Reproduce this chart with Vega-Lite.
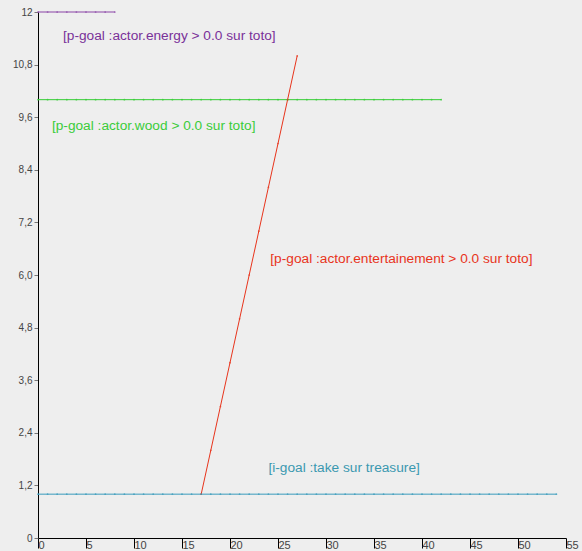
{
  "$schema": "https://vega.github.io/schema/vega-lite/v6.json",
  "autosize": "none",
  "width": 528,
  "height": 526,
  "padding": {"left": 38, "top": 12, "right": 16, "bottom": 13},
  "background": "#eeeeee",
  "config": {
    "view": {"stroke": null, "fill": "#eeeeee"},
    "locale": {"number": {"decimal": ",", "thousands": ".", "grouping": [3], "currency": ["", " €"]}},
    "font": "Liberation Sans"
  },
  "datasets": {
    "series": [
      {"goal": "energy", "x": 0, "y": 12}, {"goal": "energy", "x": 1, "y": 12}, {"goal": "energy", "x": 2, "y": 12}, {"goal": "energy", "x": 3, "y": 12}, {"goal": "energy", "x": 4, "y": 12}, {"goal": "energy", "x": 5, "y": 12}, {"goal": "energy", "x": 6, "y": 12}, {"goal": "energy", "x": 7, "y": 12}, {"goal": "energy", "x": 8, "y": 12},
      {"goal": "wood", "x": 0, "y": 10}, {"goal": "wood", "x": 1, "y": 10}, {"goal": "wood", "x": 2, "y": 10}, {"goal": "wood", "x": 3, "y": 10}, {"goal": "wood", "x": 4, "y": 10}, {"goal": "wood", "x": 5, "y": 10}, {"goal": "wood", "x": 6, "y": 10}, {"goal": "wood", "x": 7, "y": 10}, {"goal": "wood", "x": 8, "y": 10}, {"goal": "wood", "x": 9, "y": 10},
      {"goal": "wood", "x": 10, "y": 10}, {"goal": "wood", "x": 11, "y": 10}, {"goal": "wood", "x": 12, "y": 10}, {"goal": "wood", "x": 13, "y": 10}, {"goal": "wood", "x": 14, "y": 10}, {"goal": "wood", "x": 15, "y": 10}, {"goal": "wood", "x": 16, "y": 10}, {"goal": "wood", "x": 17, "y": 10}, {"goal": "wood", "x": 18, "y": 10}, {"goal": "wood", "x": 19, "y": 10},
      {"goal": "wood", "x": 20, "y": 10}, {"goal": "wood", "x": 21, "y": 10}, {"goal": "wood", "x": 22, "y": 10}, {"goal": "wood", "x": 23, "y": 10}, {"goal": "wood", "x": 24, "y": 10}, {"goal": "wood", "x": 25, "y": 10}, {"goal": "wood", "x": 26, "y": 10}, {"goal": "wood", "x": 27, "y": 10}, {"goal": "wood", "x": 28, "y": 10}, {"goal": "wood", "x": 29, "y": 10},
      {"goal": "wood", "x": 30, "y": 10}, {"goal": "wood", "x": 31, "y": 10}, {"goal": "wood", "x": 32, "y": 10}, {"goal": "wood", "x": 33, "y": 10}, {"goal": "wood", "x": 34, "y": 10}, {"goal": "wood", "x": 35, "y": 10}, {"goal": "wood", "x": 36, "y": 10}, {"goal": "wood", "x": 37, "y": 10}, {"goal": "wood", "x": 38, "y": 10}, {"goal": "wood", "x": 39, "y": 10},
      {"goal": "wood", "x": 40, "y": 10}, {"goal": "wood", "x": 41, "y": 10}, {"goal": "wood", "x": 42, "y": 10},
      {"goal": "entertainement", "x": 17, "y": 1}, {"goal": "entertainement", "x": 18, "y": 2}, {"goal": "entertainement", "x": 19, "y": 3}, {"goal": "entertainement", "x": 20, "y": 4}, {"goal": "entertainement", "x": 21, "y": 5}, {"goal": "entertainement", "x": 22, "y": 6}, {"goal": "entertainement", "x": 23, "y": 7}, {"goal": "entertainement", "x": 24, "y": 8}, {"goal": "entertainement", "x": 25, "y": 9}, {"goal": "entertainement", "x": 26, "y": 10}, {"goal": "entertainement", "x": 27, "y": 11},
      {"goal": "treasure", "x": 0, "y": 1}, {"goal": "treasure", "x": 1, "y": 1}, {"goal": "treasure", "x": 2, "y": 1}, {"goal": "treasure", "x": 3, "y": 1}, {"goal": "treasure", "x": 4, "y": 1}, {"goal": "treasure", "x": 5, "y": 1}, {"goal": "treasure", "x": 6, "y": 1}, {"goal": "treasure", "x": 7, "y": 1}, {"goal": "treasure", "x": 8, "y": 1}, {"goal": "treasure", "x": 9, "y": 1},
      {"goal": "treasure", "x": 10, "y": 1}, {"goal": "treasure", "x": 11, "y": 1}, {"goal": "treasure", "x": 12, "y": 1}, {"goal": "treasure", "x": 13, "y": 1}, {"goal": "treasure", "x": 14, "y": 1}, {"goal": "treasure", "x": 15, "y": 1}, {"goal": "treasure", "x": 16, "y": 1}, {"goal": "treasure", "x": 17, "y": 1}, {"goal": "treasure", "x": 18, "y": 1}, {"goal": "treasure", "x": 19, "y": 1},
      {"goal": "treasure", "x": 20, "y": 1}, {"goal": "treasure", "x": 21, "y": 1}, {"goal": "treasure", "x": 22, "y": 1}, {"goal": "treasure", "x": 23, "y": 1}, {"goal": "treasure", "x": 24, "y": 1}, {"goal": "treasure", "x": 25, "y": 1}, {"goal": "treasure", "x": 26, "y": 1}, {"goal": "treasure", "x": 27, "y": 1}, {"goal": "treasure", "x": 28, "y": 1}, {"goal": "treasure", "x": 29, "y": 1},
      {"goal": "treasure", "x": 30, "y": 1}, {"goal": "treasure", "x": 31, "y": 1}, {"goal": "treasure", "x": 32, "y": 1}, {"goal": "treasure", "x": 33, "y": 1}, {"goal": "treasure", "x": 34, "y": 1}, {"goal": "treasure", "x": 35, "y": 1}, {"goal": "treasure", "x": 36, "y": 1}, {"goal": "treasure", "x": 37, "y": 1}, {"goal": "treasure", "x": 38, "y": 1}, {"goal": "treasure", "x": 39, "y": 1},
      {"goal": "treasure", "x": 40, "y": 1}, {"goal": "treasure", "x": 41, "y": 1}, {"goal": "treasure", "x": 42, "y": 1}, {"goal": "treasure", "x": 43, "y": 1}, {"goal": "treasure", "x": 44, "y": 1}, {"goal": "treasure", "x": 45, "y": 1}, {"goal": "treasure", "x": 46, "y": 1}, {"goal": "treasure", "x": 47, "y": 1}, {"goal": "treasure", "x": 48, "y": 1}, {"goal": "treasure", "x": 49, "y": 1},
      {"goal": "treasure", "x": 50, "y": 1}, {"goal": "treasure", "x": 51, "y": 1}, {"goal": "treasure", "x": 52, "y": 1}, {"goal": "treasure", "x": 53, "y": 1}, {"goal": "treasure", "x": 54, "y": 1}
    ],
    "labels": [
      {"goal": "energy", "x": 2.6, "y": 11.45, "text": "[p-goal :actor.energy > 0.0 sur toto]"},
      {"goal": "wood", "x": 1.45, "y": 9.4, "text": "[p-goal :actor.wood > 0.0 sur toto]"},
      {"goal": "entertainement", "x": 24.2, "y": 6.37, "text": "[p-goal :actor.entertainement > 0.0 sur toto]"},
      {"goal": "treasure", "x": 24.0, "y": 1.6, "text": "[i-goal :take sur treasure]"}
    ]
  },
  "layer": [
    {
      "data": {"name": "series"},
      "mark": {"type": "line", "strokeWidth": 1, "point": {"filled": true, "size": 3, "opacity": 0.8}},
      "encoding": {
        "x": {"field": "x", "type": "quantitative", "scale": {"domain": [0, 55], "nice": false},
          "axis": {"values": [0, 5, 10, 15, 20, 25, 30, 35, 40, 45, 50, 55], "title": null, "grid": false,
            "domainColor": "#000000", "domainWidth": 1, "tickColor": "#000000", "tickSize": 10,
            "labelAlign": "left", "labelBaseline": "top", "labelPadding": -9, "labelDx": 2,
            "labelFontSize": 11, "labelColor": "#444444", "labelFont": "Liberation Sans", "labelFlush": false, "labelOverlap": false}},
        "y": {"field": "y", "type": "quantitative", "scale": {"domain": [0, 12], "nice": false},
          "axis": {"values": [0, 1.2, 2.4, 3.6, 4.8, 6, 7.2, 8.4, 9.6, 10.8, 12], "labelExpr": "datum.value == 0 ? '0' : datum.value == 12 ? '12' : format(datum.value, '.1f')", "title": null, "grid": false,
            "domainColor": "#000000", "domainWidth": 1, "tickColor": "#777777", "tickSize": 4,
            "labelPadding": 2, "labelFontSize": 10, "labelColor": "#444444", "labelFont": "Liberation Sans", "labelFlush": false, "labelOverlap": false}},
        "color": {"field": "goal", "type": "nominal", "legend": null,
          "scale": {"domain": ["energy", "wood", "entertainement", "treasure"], "range": ["#8a44a6", "#33cc33", "#e8341c", "#3a9cbc"]}},
        "detail": {"field": "goal"}
      }
    },
    {
      "data": {"name": "labels"},
      "mark": {"type": "text", "align": "left", "baseline": "middle", "fontSize": 13.7, "font": "Liberation Sans"},
      "encoding": {
        "x": {"field": "x", "type": "quantitative"},
        "y": {"field": "y", "type": "quantitative"},
        "text": {"field": "text"},
        "color": {"field": "goal", "type": "nominal", "legend": null,
          "scale": {"domain": ["energy", "wood", "entertainement", "treasure"], "range": ["#7a3199", "#3acc3a", "#e8341c", "#3a98b0"]}}
      }
    }
  ],
  "resolve": {"scale": {"color": "independent"}}
}
